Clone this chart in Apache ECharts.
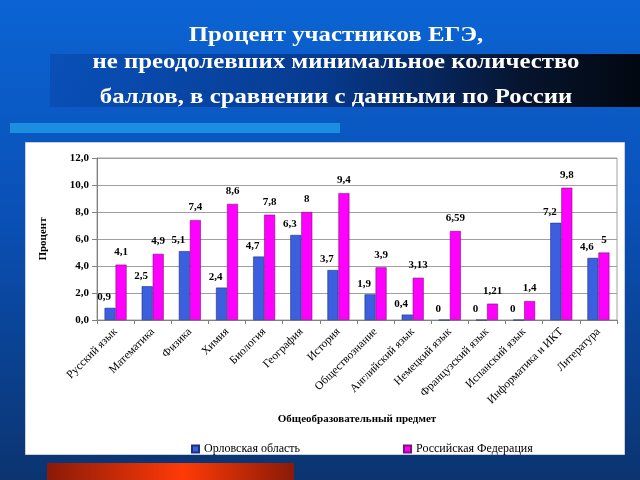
<!DOCTYPE html>
<html>
<head>
<meta charset="utf-8">
<script src="https://cdn.jsdelivr.net/npm/echarts@6/dist/echarts.min.js"></script>
<style>
html, body { margin: 0; padding: 0; }
#chart { width: 640px; height: 480px; }
</style>
</head>
<body>
<div id="chart"></div>
<script>
var subjects = ['Русский язык', 'Математика', 'Физика', 'Химия', 'Биология', 'География',
    'История', 'Обществознание', 'Английский язык', 'Немецкий язык', 'Французский язык',
    'Испанский язык', 'Информатика и ИКТ', 'Литература'];
var orel = [0.9, 2.5, 5.1, 2.4, 4.7, 6.3, 3.7, 1.9, 0.4, 0, 0, 0, 7.2, 4.6];
var russia = [4.1, 4.9, 7.4, 8.6, 7.8, 8, 9.4, 3.9, 3.13, 6.59, 1.21, 1.4, 9.8, 5];

var serif = '"Liberation Serif", "DejaVu Serif", serif';

function comma(v) {
    return String(v).replace('.', ',');
}

function titleLine(text, y) {
    return {
        type: 'text', x: 336, y: y, scaleX: 1.18,
        style: {
            text: text,
            fill: '#ffffff', font: 'bold 21px ' + serif,
            textAlign: 'center', textVerticalAlign: 'middle'
        }
    };
}

var dom = document.getElementById("chart");
var myChart = echarts.init(dom);

var option = {
    backgroundColor: {
        type: 'linear', x: 0, y: 0, x2: 0, y2: 1,
        colorStops: [
            { offset: 0, color: '#0b64d4' },
            { offset: 0.45, color: '#0a50b6' },
            { offset: 1, color: '#0b3470' }
        ]
    },
    animation: false,
    graphic: [
        // dark band behind title
        {
            type: 'rect', left: 50, top: 54, z: -10,
            shape: { width: 590, height: 53 },
            style: {
                fill: {
                    type: 'linear', x: 0, y: 0, x2: 1, y2: 0,
                    colorStops: [
                        { offset: 0, color: 'rgba(8,70,170,0.6)' },
                        { offset: 0.45, color: 'rgba(6,50,130,0.8)' },
                        { offset: 0.8, color: '#06142e' },
                        { offset: 1, color: '#020810' }
                    ]
                }
            }
        },
        {
            type: 'rect', left: 10, top: 123, z: -10,
            shape: { width: 330, height: 10 },
            style: { fill: '#1a8fe0' }
        },
        // white panel
        {
            type: 'rect', left: 25, top: 142, z: -10,
            shape: { width: 599, height: 312 },
            style: { fill: '#ffffff', stroke: '#c8d0dc', lineWidth: 1 }
        },
        {
            type: 'rect', left: 47, top: 463, z: -10,
            shape: { width: 247, height: 17 },
            style: {
                fill: {
                    type: 'linear', x: 0, y: 0, x2: 1, y2: 0,
                    colorStops: [
                        { offset: 0, color: '#8a1a08' },
                        { offset: 0.55, color: '#ff3a08' },
                        { offset: 1, color: '#8a1a08' }
                    ]
                }
            }
        },
        titleLine('Процент участников ЕГЭ,', 36),
        titleLine('не преодолевших минимальное количество', 63),
        titleLine('баллов, в сравнении с данными по России', 98),
        {
            type: 'text', x: 357, y: 419,
            style: {
                text: 'Общеобразовательный предмет',
                fill: '#000000', font: 'bold 11px ' + serif,
                textAlign: 'center', textVerticalAlign: 'middle'
            }
        }
    ],
    legend: [{
        data: ['Орловская область'],
        left: 186,
        top: 438,
        itemWidth: 7,
        itemHeight: 7,
        itemGap: 4,
        icon: 'rect',
        textStyle: { fontFamily: serif, fontSize: 12, color: '#000' }
    }, {
        data: ['Российская Федерация'],
        left: 398,
        top: 438,
        itemWidth: 7,
        itemHeight: 7,
        itemGap: 4,
        icon: 'rect',
        textStyle: { fontFamily: serif, fontSize: 12, color: '#000' }
    }],
    grid: {
        left: 97,
        right: 23,
        top: 158,
        bottom: 160,
        show: true,
        borderColor: '#a0a0a0',
        borderWidth: 1
    },
    xAxis: {
        type: 'category',
        data: subjects,
        axisLine: { lineStyle: { color: '#808080' } },
        axisTick: { show: true, length: 4, lineStyle: { color: '#808080' } },
        axisLabel: {
            interval: 0,
            rotate: 45,
            margin: 10,
            color: '#000',
            fontFamily: serif,
            fontSize: 11.5
        }
    },
    yAxis: {
        type: 'value',
        min: 0,
        max: 12,
        interval: 2,
        name: 'Процент',
        nameLocation: 'middle',
        nameGap: 48,
        nameTextStyle: { fontFamily: serif, fontWeight: 'bold', fontSize: 11, color: '#000' },
        axisLine: { show: true, lineStyle: { color: '#808080' } },
        axisTick: { show: true, length: 5, lineStyle: { color: '#808080' } },
        splitLine: { lineStyle: { color: '#a0a0a0' } },
        axisLabel: {
            color: '#000',
            fontFamily: serif,
            fontWeight: 'bold',
            fontSize: 11,
            formatter: function (v) { return v.toFixed(1).replace('.', ','); }
        }
    },
    series: [{
        name: 'Орловская область',
        type: 'bar',
        data: orel,
        barWidth: 11,
        barGap: '0%',
        itemStyle: { color: '#3c5fe0', borderColor: '#1c2f80', borderWidth: 0.6 },
        label: {
            show: true,
            position: 'top',
            offset: [-6, 0],
            distance: 5,
            color: '#000',
            fontFamily: serif,
            fontWeight: 'bold',
            fontSize: 11,
            formatter: function (p) { return comma(p.value); }
        }
    }, {
        name: 'Российская Федерация',
        type: 'bar',
        data: russia,
        barWidth: 11,
        itemStyle: { color: '#ff00ff', borderColor: '#80107a', borderWidth: 0.6 },
        label: {
            show: true,
            position: 'top',
            distance: 7,
            color: '#000',
            fontFamily: serif,
            fontWeight: 'bold',
            fontSize: 11,
            formatter: function (p) { return comma(p.value); }
        }
    }]
};

myChart.setOption(option, true);

window.onresize = function () {
    myChart.resize();
};
</script>
</body>
</html>
